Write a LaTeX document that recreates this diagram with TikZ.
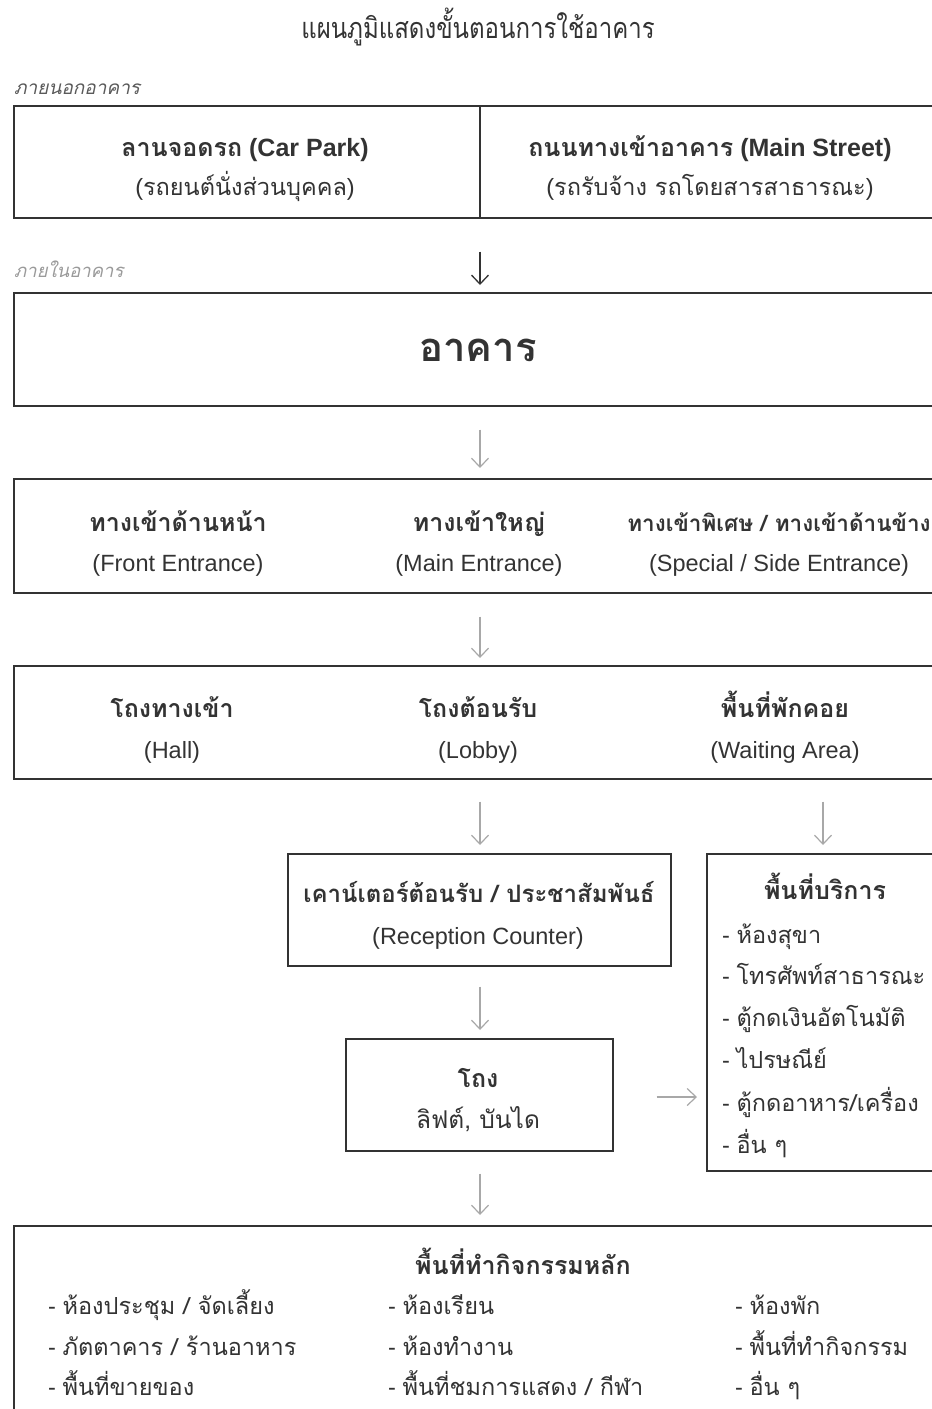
\documentclass[tikz,border=0pt]{standalone}
\usepackage{fontspec}
\usepackage{graphicx}
\setmainfont{Liberation Sans}
\newfontfamily\thai[Script=Thai]{Loma}
\usetikzlibrary{arrows.meta,calc}
\definecolor{ink}{HTML}{333333}
\definecolor{lite}{HTML}{A8A8A8}
\definecolor{labgray}{HTML}{5A5A5A}
\definecolor{labgray2}{HTML}{9A9A9A}
\tikzset{
  box/.style={draw=ink, line width=1.6pt, anchor=north west, inner sep=0pt},
  txt/.style={text=ink, inner sep=0pt, anchor=center, text height=17pt, text depth=5pt},
  item/.style={text=ink, inner sep=0pt, anchor=west, text height=17pt, text depth=5pt, font=\fontsize{23.5}{26}\selectfont},
  head/.style={font=\fontsize{25}{28}\selectfont\bfseries},
  sub/.style={font=\fontsize{23.5}{26}\selectfont},
  arr/.style={draw=lite, line width=1.2pt, -{Straight Barb[length=9pt,width=17pt]}},
  darr/.style={draw=ink, line width=1.3pt, -{Straight Barb[length=9pt,width=17pt]}},
}
\newcommand{\thx}[1]{{\thai #1}}
\begin{document}
\begin{tikzpicture}[x=1pt,y=-1pt]
\useasboundingbox (0,0) rectangle (932,1409);
\coordinate (mid) at (480,0);
\coordinate (right) at (823,0);

% title and labels
\node[txt, font=\fontsize{24}{26}\selectfont] (title) at (478,32) {\scalebox{1}[1.2]{\thx{แผนภูมิแสดงขั้นตอนการใช้อาคาร}}};
\node[item, text=labgray, font=\fontsize{19}{20}\selectfont\itshape] (out) at (14,88) {\thx{ภายนอกอาคาร}};
\node[item, text=labgray2, font=\fontsize{18.5}{20}\selectfont\itshape] (in) at (14,271) {\thx{ภายในอาคาร}};

% box 1
\node[box, minimum width=940pt, minimum height=112pt] (b1) at (13,105) {};
\draw[ink, line width=1.2pt] (b1.north -| mid) -- (b1.south -| mid);
\node[txt, head] (b1a) at (245,150) {\thx{ลานจอดรถ} (Car Park)};
\node[txt, sub] (b1b) at (245,189) {(\thx{รถยนต์นั่งส่วนบุคคล})};
\node[txt, head] (b1c) at (710,150) {\thx{ถนนทางเข้าอาคาร} (Main Street)};
\node[txt, sub] (b1d) at (710,189) {(\thx{รถรับจ้าง รถโดยสารสาธารณะ})};

% box 2
\node[box, minimum width=940pt, minimum height=113pt] (b2) at (13,292) {};
\node[txt, font=\fontsize{40}{44}\selectfont\bfseries] (b2a) at (478,355) {\thx{อาคาร}};

% box 3
\node[box, minimum width=940pt, minimum height=114pt] (b3) at (13,478) {};
\node[txt, head] (b3a) at (178,525) {\thx{ทางเข้าด้านหน้า}};
\node[txt, sub] (b3b) at (178,565) {(Front Entrance)};
\node[txt, head] (b3c) at (479,525) {\thx{ทางเข้าใหญ่}};
\node[txt, sub] (b3d) at (479,565) {(Main Entrance)};
\node[txt, head, font=\fontsize{22.5}{26}\selectfont\bfseries] (b3e) at (779,525) {\thx{ทางเข้าพิเศษ / ทางเข้าด้านข้าง}};
\node[txt, sub] (b3f) at (779,565) {(Special / Side Entrance)};

% box 4
\node[box, minimum width=940pt, minimum height=113pt] (b4) at (13,665) {};
\node[txt, head] (b4a) at (172,711) {\thx{โถงทางเข้า}};
\node[txt, sub] (b4b) at (172,752) {(Hall)};
\node[txt, head] (b4c) at (478,711) {\thx{โถงต้อนรับ}};
\node[txt, sub] (b4d) at (478,752) {(Lobby)};
\node[txt, head] (b4e) at (785,711) {\thx{พื้นที่พักคอย}};
\node[txt, sub] (b4f) at (785,752) {(Waiting Area)};

% box 5 reception
\node[box, minimum width=383pt, minimum height=112pt] (b5) at (287,853) {};
\node[txt, head, font=\fontsize{24}{26}\selectfont\bfseries] (b5a) at (479,896) {\thx{เคาน์เตอร์ต้อนรับ / ประชาสัมพันธ์}};
\node[txt, sub] (b5b) at (478,938) {(Reception Counter)};

% box 6 services
\node[box, minimum width=240pt, minimum height=317pt] (b6) at (706,853) {};
\node[txt, head] (b6t) at (825,893) {\thx{พื้นที่บริการ}};
\node[item] (s1) at (722,937) {- \thx{ห้องสุขา}};
\node[item] (s2) at (722,978) {- \thx{โทรศัพท์สาธารณะ}};
\node[item] (s3) at (722,1020) {- \thx{ตู้กดเงินอัตโนมัติ}};
\node[item] (s4) at (722,1062) {- \thx{ไปรษณีย์}};
\node[item] (s5) at (722,1105) {- \thx{ตู้กดอาหาร/เครื่อง}};
\node[item] (s6) at (722,1147) {- \thx{อื่น ๆ}};

% box 7 hall
\node[box, minimum width=267pt, minimum height=112pt] (b7) at (345,1038) {};
\node[txt, head] (b7a) at (478,1081) {\thx{โถง}};
\node[txt, sub, font=\fontsize{24.5}{26}\selectfont] (b7b) at (478,1122) {\thx{ลิฟต์, บันได}};

% box 8 main activity
\node[box, minimum width=940pt, minimum height=200pt] (b8) at (13,1225) {};
\node[txt, head] (b8t) at (523,1268) {\thx{พื้นที่ทำกิจกรรมหลัก}};
\node[item] (m1) at (48,1308) {- \thx{ห้องประชุม / จัดเลี้ยง}};
\node[item] (m2) at (48,1349) {- \thx{ภัตตาคาร / ร้านอาหาร}};
\node[item] (m3) at (48,1389) {- \thx{พื้นที่ขายของ}};
\node[item] (m4) at (388,1308) {- \thx{ห้องเรียน}};
\node[item] (m5) at (388,1349) {- \thx{ห้องทำงาน}};
\node[item] (m6) at (388,1389) {- \thx{พื้นที่ชมการแสดง / กีฬา}};
\node[item] (m7) at (735,1308) {- \thx{ห้องพัก}};
\node[item] (m8) at (735,1349) {- \thx{พื้นที่ทำกิจกรรม}};
\node[item] (m9) at (735,1389) {- \thx{อื่น ๆ}};

% arrows
\draw[darr, shorten <=33pt, shorten >=7pt] (b1.south -| mid) -- (b2.north -| mid);
\draw[arr, shorten <=23pt, shorten >=10pt] (b2.south -| mid) -- (b3.north -| mid);
\draw[arr, shorten <=23pt, shorten >=7pt] (b3.south -| mid) -- (b4.north -| mid);
\draw[arr, shorten <=22pt, shorten >=8pt] (b4.south -| mid) -- (b5.north -| mid);
\draw[arr, shorten <=22pt, shorten >=8pt] (b4.south -| right) -- (b6.north -| right);
\draw[arr, shorten <=20pt, shorten >=8pt] (b5.south -| mid) -- (b7.north -| mid);
\draw[arr, shorten <=43pt, shorten >=9pt] (b7.east |- 0,1097) -- (b6.west |- 0,1097);
\draw[arr, shorten <=22pt, shorten >=10pt] (b7.south -| mid) -- (b8.north -| mid);
\end{tikzpicture}
\end{document}
